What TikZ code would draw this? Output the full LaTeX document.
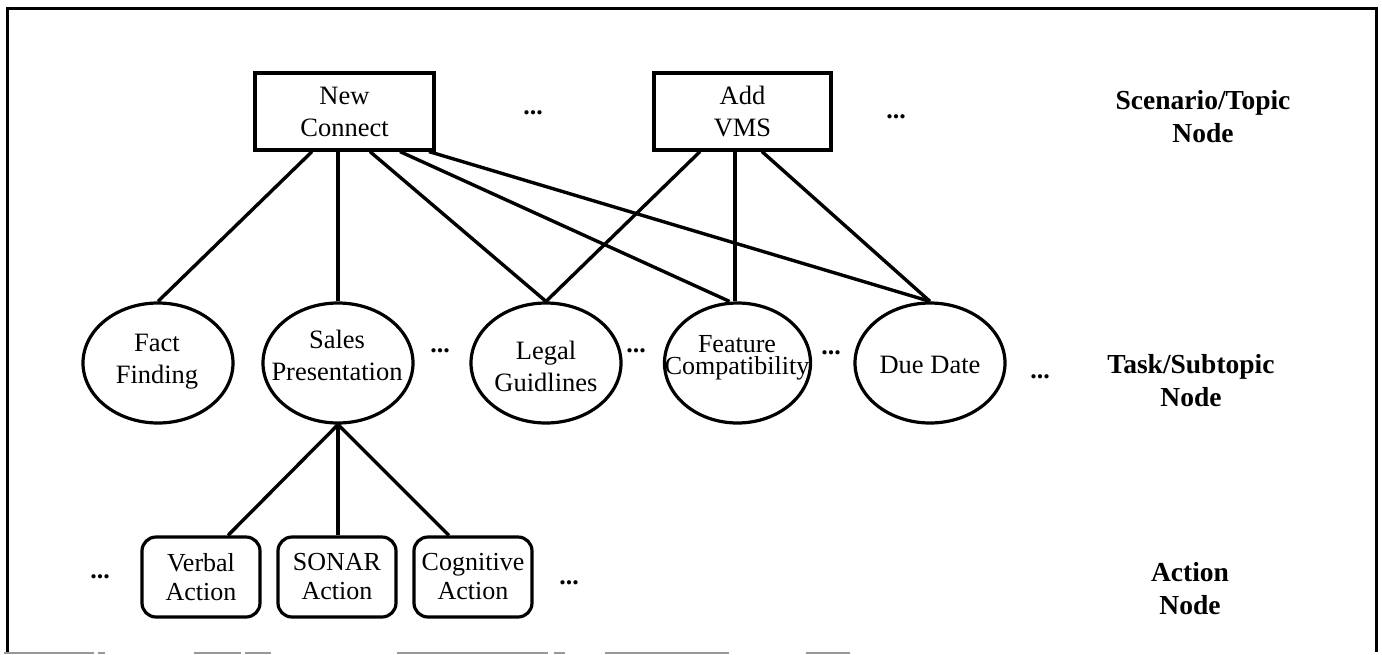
\documentclass[tikz,border=0pt]{standalone}
\usepackage{fontspec}
\setmainfont{Liberation Serif}
\usetikzlibrary{shapes.geometric}

\begin{document}
\begin{tikzpicture}[x=1pt,y=-1pt,
  every node/.style={font=\fontsize{26.5}{32}\selectfont, inner sep=0pt},
  topic/.style={draw, line width=3.2pt, minimum width=179pt, minimum height=77pt, align=center},
  task/.style={draw, ellipse, line width=3.2pt, minimum width=150pt, minimum height=120pt},
  tasktext/.style={align=center},
  act/.style={draw, rounded corners=14pt, line width=3.2pt, minimum width=118pt, minimum height=80pt,
    align=center, font=\fontsize{26}{29}\selectfont},
  more/.style={font=\fontsize{26}{32}\selectfont\bfseries},
  level/.style={font=\fontsize{27.5}{33}\selectfont\bfseries, align=center},
  link/.style={line width=3.4pt},
  frame/.style={line width=3pt},
  scanedge/.style={line width=2pt, black!40},
]
\useasboundingbox (0,0) rectangle (1382,654);

% outer frame
\draw[frame] (7.5,652) -- (7.5,8) -- (1376,8) -- (1376,652);
\draw[scanedge] (4,652.5) -- (94,652.5) (98,652.5) -- (105,652.5)
  (194,652.5) -- (241,652.5) (245,652.5) -- (271,652.5)
  (397,652.5) -- (548,652.5) (554,652.5) -- (565,652.5)
  (605,652.5) -- (729,652.5) (806,652.5) -- (850,652.5);

% scenario / topic level
\node[topic] (nc) at (344.5,111.5) {New\\Connect};
\node[topic, minimum width=177pt] (av) at (742.5,111.5) {Add\\VMS};
\node[more] (d1) at (533,113) {...};
\node[more] (d2) at (896,117) {...};
\node[level] (l1) at (1203,117) {Scenario/Topic\\Node};

% task / subtopic level
\node[task] (ff) at (158,363) {};
\node[task] (sp) at (338,363) {};
\node[task] (lg) at (546,363) {};
\node[task, minimum width=146pt] (fc) at (737.5,363) {};
\node[task] (dd) at (930,363) {};
\node[tasktext] (fft) at (157,361.5) {Fact\\Finding};
\node[tasktext] (spt) at (337,355) {Sales\\Presentation};
\node[tasktext] (lgt) at (546,366) {Legal\\Guidlines};
\node[tasktext, font=\fontsize{26}{22}\selectfont] (fct) at (737,358) {Feature\\Compatibility};
\node[tasktext] (ddt) at (930,365) {Due Date};
\node[more] (d3) at (440,351) {...};
\node[more] (d4) at (636,351) {...};
\node[more] (d5) at (831,353) {...};
\node[more] (d6) at (1040,377) {...};
\node[level] (l2) at (1191,381) {Task/Subtopic\\Node};

% action level
\node[act] (va) at (201,577) {Verbal\\Action};
\node[act] (sa) at (337,577) {SONAR\\Action};
\node[act] (ca) at (473,577) {Cognitive\\Action};
\node[more] (d7) at (100,577) {...};
\node[more] (d8) at (569,583) {...};
\node[level] (l3) at (1190,589) {Action\\Node};

% links between levels
\draw[link] ([xshift=-32.5pt]nc.south) -- (ff.north);
\draw[link] ([xshift=-6.5pt]nc.south) -- (sp.north);
\draw[link] ([xshift=25.5pt]nc.south) -- (lg.north);
\draw[link] ([xshift=55.5pt]nc.south) -- ([xshift=-8pt]fc.north);
\draw[link] ([xshift=84.5pt]nc.south) -- (dd.north);
\draw[link] ([xshift=-42.5pt]av.south) -- (lg.north);
\draw[link] ([xshift=-7.5pt]av.south) -- ([xshift=-2.5pt]fc.north);
\draw[link] ([xshift=19.5pt]av.south) -- (dd.north);

\draw[link] (sp.south) -- ([xshift=27pt]va.north);
\draw[link] (sp.south) -- ([xshift=1pt]sa.north);
\draw[link] (sp.south) -- ([xshift=-24pt]ca.north);
\end{tikzpicture}
\end{document}
